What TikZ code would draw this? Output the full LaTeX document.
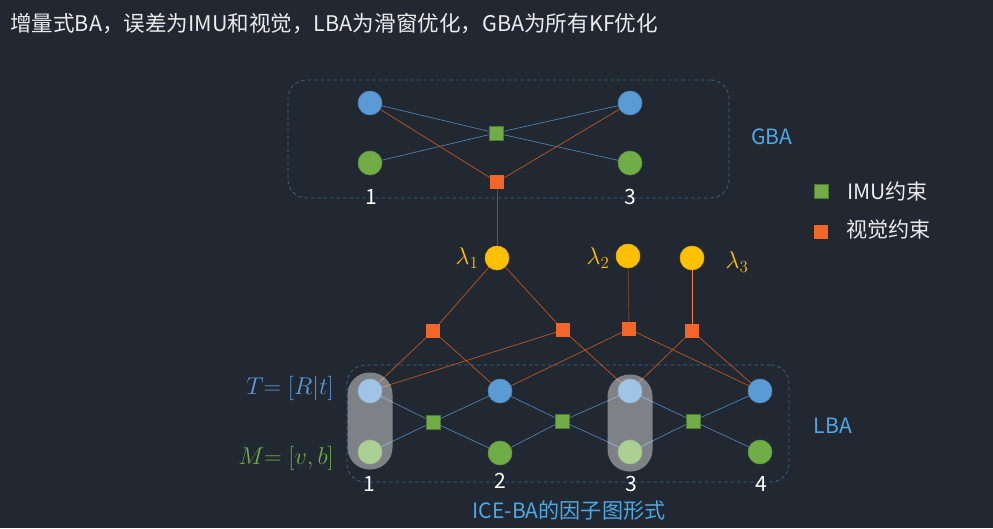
\documentclass[tikz,border=0pt]{standalone}
\usepackage[no-math]{fontspec}
\setmainfont{Noto Sans CJK SC}
\usepackage{tikz}
\definecolor{bgdark}{HTML}{222831}
\definecolor{boxblue}{HTML}{3C6A93}
\definecolor{nblue}{HTML}{5B9BD5}
\definecolor{ngreen}{HTML}{70AD47}
\definecolor{nyellow}{HTML}{FFC000}
\definecolor{norange}{HTML}{F3662A}
\definecolor{lblue}{HTML}{4F86BA}
\definecolor{lorange}{HTML}{C9581F}
\definecolor{txtblue}{HTML}{4EA8E2}
\newcommand{\lbltxt}{\fontsize{18}{20}\selectfont}
\newcommand{\ttltxt}{\fontsize{18.4}{20}\selectfont}
\newcommand{\mathtxt}{\fontsize{21}{23}\selectfont}

\begin{document}
\begin{tikzpicture}[
  x=0.03cm, y=-0.03cm,
  every node/.style={inner sep=0pt},
  tnode/.style={circle, fill=nblue, draw=nblue!85!black,
                line width=0.5pt, minimum size=0.72cm},
  mnode/.style={tnode, fill=ngreen, draw=ngreen!85!black},
  lnode/.style={tnode, fill=nyellow, draw=nyellow!90!black},
  imuf/.style={rectangle, fill=ngreen, draw=ngreen!70!black,
               line width=0.5pt, minimum size=0.42cm},
  visf/.style={rectangle, fill=norange, minimum size=0.42cm},
  win/.style={draw=boxblue, dash pattern=on 3pt off 2.5pt,
              rounded corners=0.55cm, line width=0.6pt},
  bln/.style={draw=lblue, line width=0.55pt},
  oln/.style={draw=lorange, line width=0.55pt},
  num/.style={text=white, font=\lbltxt},
  pill/.style={rectangle, fill=white, opacity=0.42,
               rounded corners=0.66cm,
               minimum width=1.35cm, minimum height=2.91cm}
]
  \fill[bgdark] (0,0) rectangle (993,528);
  \useasboundingbox (0,0) rectangle (993,528);

  % title and caption
  \node[anchor=west, text=white!92!black, font=\ttltxt] (title) at (10,24)
    {增量式BA，误差为IMU和视觉，LBA为滑窗优化，GBA为所有KF优化};
  \node[text=txtblue, font=\lbltxt] (caption) at (569,510)
    {ICE-BA的因子图形式};

  % windows
  \node[win, minimum width=13.23cm, minimum height=3.54cm] (gbabox)
    at (508.5,139) {};
  \node[win, minimum width=13.26cm, minimum height=3.51cm] (lbabox)
    at (568,423.5) {};
  \node[text=txtblue, font=\lbltxt] (gbalbl) at (772,137) {GBA};
  \node[text=txtblue, font=\lbltxt] (lbalbl) at (833,426) {LBA};

  % GBA graph
  \node[tnode] (gt1) at (370,103) {};
  \node[mnode] (gm1) at (370,163) {};
  \node[tnode] (gt3) at (630,103) {};
  \node[mnode] (gm3) at (630,163) {};
  \node[imuf]  (gimu) at (496,133) {};
  \node[visf]  (gvis) at (497,182) {};
  \node[num] (gn1) at (371,197) {1};
  \node[num] (gn3) at (630,197) {3};

  \draw[bln] (gt1) -- (gimu) -- (gm3);
  \draw[bln] (gm1) -- (gimu) -- (gt3);
  \draw[oln] (gt1) -- (gvis) -- (gt3);

  % marginalisation priors
  \node[lnode] (lam1) at (497,258) {};
  \node[lnode] (lam2) at (628,256) {};
  \node[lnode] (lam3) at (692,258) {};
  \node[text=nyellow, font=\mathtxt] (lam1lbl) at (467,258) {$\lambda_1$};
  \node[text=nyellow, font=\mathtxt] (lam2lbl) at (598,258) {$\lambda_2$};
  \node[text=nyellow, font=\mathtxt] (lam3lbl) at (737,262) {$\lambda_3$};

  \node[visf] (vf1) at (433,331) {};
  \node[visf] (vf2) at (563,330) {};
  \node[visf] (vf3) at (629,329) {};
  \node[visf] (vf4) at (692,331) {};

  \draw[draw=lorange!75!black, line width=0.6pt] (gvis) -- (lam1);
  \draw[oln] (vf1) -- (lam1) -- (vf2);
  \draw[draw=lorange!45!bgdark, line width=0.8pt] (lam2) -- (vf3);
  \draw[draw=norange!85!white, line width=0.6pt] (lam3) -- (vf4);

  % LBA graph
  \node[tnode] (t1) at (370,391) {};
  \node[tnode] (t2) at (500,391) {};
  \node[tnode] (t3) at (630,391) {};
  \node[tnode] (t4) at (760,391) {};
  \node[mnode] (m1) at (370,452) {};
  \node[mnode] (m2) at (500,453) {};
  \node[mnode] (m3) at (630,452) {};
  \node[mnode] (m4) at (760,452) {};
  \node[imuf] (if1) at (433,422) {};
  \node[imuf] (if2) at (562,421) {};
  \node[imuf] (if3) at (693,421) {};

  \draw[bln] (t1) -- (if1) -- (m2) (m1) -- (if1) -- (t2);
  \draw[bln] (t2) -- (if2) -- (m3) (m2) -- (if2) -- (t3);
  \draw[bln] (t3) -- (if3) -- (m4) (m3) -- (if3) -- (t4);

  \draw[oln] (t1) -- (vf1) -- (t2);
  \draw[oln] (t1) -- (vf2) -- (t3);
  \draw[oln] (t2) -- (vf3) -- (t4);
  \draw[oln] (t3) -- (vf4) -- (t4);

  \node[num] (n1) at (369,484) {1};
  \node[num] (n2) at (500,481) {2};
  \node[num] (n3) at (631,484) {3};
  \node[num] (n4) at (761,484) {4};

  \node[anchor=east, text=nblue, font=\mathtxt] (tlbl) at (334,388)
    {$T{=}\;[R|t]$};
  \node[anchor=east, text=ngreen, font=\mathtxt] (mlbl) at (334,458)
    {$M{=}\;[v,b]$};

  % highlighted states
  \node[pill] (hl1) at (370,421) {};
  \node[pill] (hl3) at (630,423) {};

  % legend
  \node[imuf] (legimu) at (821,191) {};
  \node[visf] (legvis) at (821,232) {};
  \node[anchor=west, text=white!92!black, font=\lbltxt] (legimutxt)
    at (847,191) {IMU约束};
  \node[anchor=west, text=white!92!black, font=\lbltxt] (legvistxt)
    at (846,230) {视觉约束};
\end{tikzpicture}
\end{document}
